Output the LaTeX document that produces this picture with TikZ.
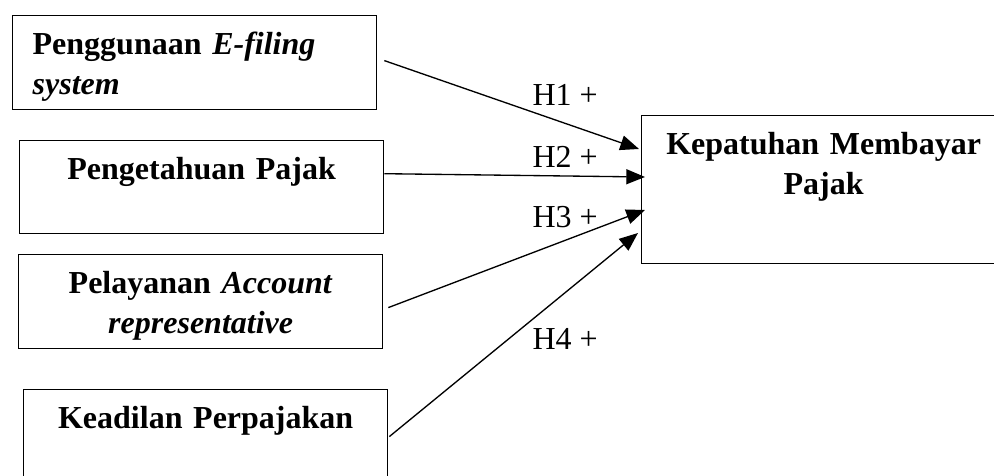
\documentclass[tikz,border=0pt]{standalone}
\usepackage{fontspec}
\setmainfont{Liberation Serif}
\usetikzlibrary{arrows.meta, calc}

\begin{document}
\begin{tikzpicture}[
      x=0.375pt, y=-0.375pt,
      box/.style={draw, line width=0.5pt, anchor=north west, inner xsep=7.5pt,
        inner ysep=0pt, text width=121.5pt, align=center, text height=14.6pt,
        text depth=#1, font=\fontsize{12}{15}\selectfont\bfseries},
      box/.default=20.6pt,
      arr/.style={-{Triangle[length=7pt, width=5.6pt]}, line width=0.5pt},
      hyp/.style={anchor=base west, inner sep=0pt, font=\fontsize{12}{15}\selectfont}
    ]
    \useasboundingbox (0,0) rectangle (994,476);
    \clip (0,0) rectangle (994,476);
    \node[box, align=left] (efs) at (12,15)  {Penggunaan \textit{E-filing}\\\textit{system}};
    \node[box=20.3pt]      (pgj) at (19,140) {Pengetahuan Pajak};
    \node[box]             (par) at (18,254) {Pelayanan \textit{Account}\\\textit{representative}};
    \node[box]             (kdl) at (23,389) {Keadilan Perpajakan};
    \node[box=40.9pt]      (kmp) at (641,115) {Kepatuhan Membayar\\Pajak};
    \draw[arr] ($(efs.east)+(7,-2)$)    -- ($(kmp.north west)+(-2,34)$);
    \draw[arr] ($(pgj.east)+(0,-13.5)$) -- ($(kmp.north west)+(4,62)$);
    \draw[arr] ($(par.east)+(5,6)$)     -- ($(kmp.north west)+(4,95)$);
    \draw[arr] ($(kdl.east)+(1,0)$)     -- ($(kmp.north west)+(-3,118)$);
    \node[hyp] (h1) at (532,106) {H1 +};
    \node[hyp] (h2) at (532,168) {H2 +};
    \node[hyp] (h3) at (532,228) {H3 +};
    \node[hyp] (h4) at (532,350) {H4 +};
  \end{tikzpicture}
\end{document}
